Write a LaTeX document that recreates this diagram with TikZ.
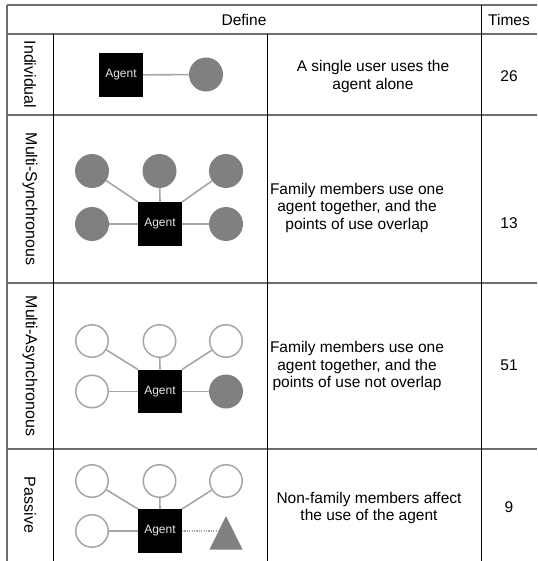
\documentclass[tikz,border=0pt]{standalone}
\usepackage{fontspec}
\setmainfont{Liberation Sans}
\usetikzlibrary{shapes.geometric}
\definecolor{tablegray}{HTML}{6E6E6E}
\definecolor{usergray}{HTML}{808080}
\definecolor{conngray}{HTML}{A6A6A6}
\definecolor{agenttext}{HTML}{E6E6E6}
\begin{document}
\begin{tikzpicture}[x=1pt,y=-1pt,
 hline/.style={draw=tablegray,line width=1.5pt},
 vline/.style={draw=black,line width=1pt},
 agent/.style={fill=black,minimum size=43.5pt,inner sep=0pt,text=agenttext,font=\fontsize{12}{13}\selectfont},
 fuser/.style={circle,fill=usergray,minimum size=34pt,inner sep=0pt},
 huser/.style={circle,draw=conngray,line width=1.5pt,fill=white,minimum size=32.5pt,inner sep=0pt},
 conn/.style={draw=conngray,line width=1.6pt},
 dotconn/.style={draw=conngray,line width=1.4pt,dash pattern=on 1.2pt off 1.2pt},
 body/.style={align=center,inner sep=0pt,font=\fontsize{15.5}{17.5}\selectfont},
 lab/.style={rotate=-90,inner sep=0pt,font=\fontsize{16}{18}\selectfont},
]
\useasboundingbox (0,0) rectangle (537,561);
\fill[white] (0,0) rectangle (537,561);
% table rules
\foreach \yy in {5,34,115,283,449} \draw[hline] (7,\yy) -- (537,\yy);
\draw[hline] (7,5) -- (7,561);
\draw[vline] (53,34) -- (53,561);
\draw[vline] (267,34) -- (267,561);
\draw[vline] (481,5) -- (481,561);
% header
\node[body] (hdef) at (244,19.5) {Define};
\node[body] (htim) at (509,19.5) {Times};
% row labels
\node[lab] (l1) at (30,74.5) {Individual};
\node[lab] (l2) at (30,199) {Multi-Synchronous};
\node[lab] (l3) at (30,366) {Multi-Asynchronous};
\node[lab] (l4) at (30,505) {Passive};
% descriptions
\node[body] (d1) at (373,76.5) {A single user uses the\\agent alone};
\node[body] (d2) at (357,207.5) {Family members use one\\agent together, and the\\points of use overlap};
\node[body] (d3) at (357,366) {Family members use one\\agent together, and the\\points of use not overlap};
\node[body] (d4) at (369,508) {Non-family members affect\\the use of the agent};
% counts
\node[body] (n1) at (509,76) {26};
\node[body] (n2) at (509,223) {13};
\node[body] (n3) at (509,365) {51};
\node[body] (n4) at (509,507) {9};
% Individual
\node[agent] (a1) at (121,75) {Agent};
\node[fuser] (u1) at (206,74.5) {};
\draw[conn] (a1) -- (u1);
% Multi-Synchronous
\node[agent] (a2) at (160,224) {Agent};
\node[fuser] (s1) at (92,171) {};
\node[fuser] (s2) at (159.5,171) {};
\node[fuser] (s3) at (226,171) {};
\node[fuser] (s4) at (92,224) {};
\node[fuser] (s5) at (226,224) {};
\draw[conn] (s1) -- (a2.north west);
\draw[conn] (s2) -- (a2.north);
\draw[conn] (s3) -- (a2.north east);
\draw[conn] (s4) -- (a2.west);
\draw[conn] (s5) -- (a2.east);
% Multi-Asynchronous
\node[agent] (a3) at (160,391.5) {Agent};
\node[huser] (q1) at (92,341) {};
\node[huser] (q2) at (159.5,341) {};
\node[huser] (q3) at (226,341) {};
\node[huser] (q4) at (92,391.5) {};
\node[fuser] (q5) at (226,391.5) {};
\draw[conn] (q1) -- (a3.north west);
\draw[conn] (q2) -- (a3.north);
\draw[conn] (q3) -- (a3.north east);
\draw[conn] (q4) -- (a3.west);
\draw[conn] (q5) -- (a3.east);
% Passive
\node[agent] (a4) at (160,531) {Agent};
\node[huser] (p1) at (92,481) {};
\node[huser] (p2) at (159.5,481) {};
\node[huser] (p3) at (226,481) {};
\node[huser] (p4) at (92,531) {};
\draw[conn] (p1) -- (a4.north west);
\draw[conn] (p2) -- (a4.north);
\draw[conn] (p3) -- (a4.north east);
\draw[conn] (p4) -- (a4.west);
\fill[usergray] (209.5,549.5) -- (226,516) -- (242.5,549.5) -- cycle;
\coordinate (tri) at (218,531);
\draw[dotconn] (a4.east) -- (tri);
\end{tikzpicture}
\end{document}
